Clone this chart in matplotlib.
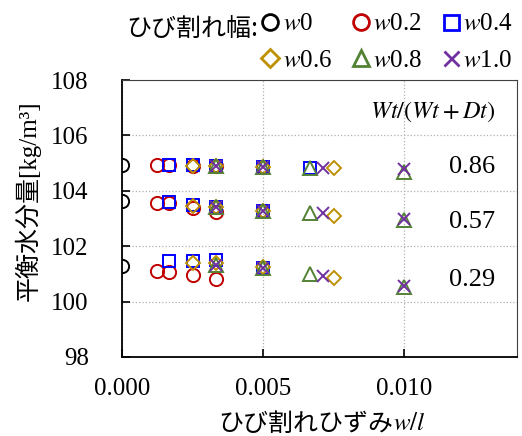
import matplotlib
matplotlib.use("Agg")
import matplotlib.pyplot as plt

plt.rcParams["mathtext.fontset"] = "stix"
plt.rcParams["font.family"] = ["Liberation Serif", "Noto Sans CJK JP"]

# ratio labels Wt/(Wt+Dt)
ratios = ["0.86", "0.57", "0.29"]
ratio_y = [104.87, 102.88, 100.78]

# crack width series: strain positions and moisture values for 3 ratio levels
w0_x = [0.0]
w0_y = [[104.93], [103.64], [101.30]]

w02_x = [0.00125, 0.00167, 0.0025, 0.00333]
w02_y = [[104.93, 104.93, 104.90, 104.88],
         [103.55, 103.55, 103.38, 103.25],
         [101.12, 101.08, 100.96, 100.82]]

w04_x = [0.00167, 0.0025, 0.00333, 0.005, 0.00667]
w04_y = [[104.93, 104.92, 104.90, 104.87, 104.81],
         [103.58, 103.50, 103.42, 103.27],
         [101.47, 101.47, 101.50, 101.22]]

w06_x = [0.0025, 0.00333, 0.005, 0.0075]
w06_y = [[104.90, 104.88, 104.87, 104.82],
         [103.45, 103.42, 103.27, 103.10],
         [101.40, 101.38, 101.24, 100.86]]

w08_x = [0.00333, 0.005, 0.00667, 0.010]
w08_y = [[104.88, 104.87, 104.81, 104.67],
         [103.42, 103.27, 103.19, 102.95],
         [101.32, 101.22, 101.00, 100.54]]

w10_x = [0.00333, 0.005, 0.00714, 0.010]
w10_y = [[104.88, 104.87, 104.82, 104.78],
         [103.40, 103.27, 103.19, 102.98],
         [101.32, 101.22, 100.93, 100.57]]

series = [
    ("$w$0", w0_x, w0_y, "o", "black", 9.5),
    ("$w$0.2", w02_x, w02_y, "o", "#c00000", 9.5),
    ("$w$0.4", w04_x, w04_y, "s", "#0000ff", 9),
    ("$w$0.6", w06_x, w06_y, "D", "#bf9000", 7.5),
    ("$w$0.8", w08_x, w08_y, "^", "#548235", 9.5),
    ("$w$1.0", w10_x, w10_y, "x", "#7030a0", 9),
]

fig = plt.figure(figsize=(5.22, 4.36), dpi=100)
ax = fig.add_axes([0.2337, 0.1812, 0.9904 - 0.2337, 0.8165 - 0.1812])

handles = {}
for label, xs, ys, mk, col, ms in series:
    for lvl in ys:
        h, = ax.plot(xs[:len(lvl)], lvl, linestyle="none", marker=mk, ms=ms,
                     mfc="none", mec=col, mew=1.4, label=label)
    handles[label] = h

for r, yy in zip(ratios, ratio_y):
    ax.text(0.0124, yy, r, fontsize=19, ha="center", va="center",
            family="Liberation Serif")
ax.text(0.0110, 106.85, "$Wt/(Wt+Dt)$", fontsize=17.5, ha="center", va="center")

ax.set_xlim(0, 0.014)
ax.set_ylim(98, 108)
ax.set_xticks([0.0, 0.005, 0.010])
ax.set_xticklabels(["0.000", "0.005", "0.010"])
ax.set_yticks([98, 100, 102, 104, 106, 108])
ax.tick_params(axis="x", direction="in", length=6, width=1.2, labelsize=18, pad=15)
ax.tick_params(axis="y", direction="in", length=6, width=1.2, labelsize=18, pad=24)
for lab in ax.get_xticklabels() + ax.get_yticklabels():
    lab.set_family("Liberation Serif")
ax.grid(True, linestyle=":", color="#b0b0b0", linewidth=0.9)
ax.set_axisbelow(True)
ax.spines["left"].set_linewidth(1.3)
ax.spines["bottom"].set_linewidth(1.3)
ax.spines["top"].set_color("#404040")
ax.spines["right"].set_color("#404040")

# axis labels
fig.text(28 / 522, 1 - 201 / 436, "平衡水分量[kg/m³]", rotation=90, fontsize=18,
         ha="center", va="center")
fig.text(393 / 522, 1 - 424 / 436, "ひび割れひずみ", fontsize=18, ha="right",
         va="center", family="Noto Sans CJK JP")
fig.text(393 / 522, 1 - 424 / 436, "$w/l$", fontsize=18, ha="left", va="center")

# legend
order = ["$w$0", "$w$0.6", "$w$0.2", "$w$0.8", "$w$0.4", "$w$1.0"]
leg = fig.legend([handles[k] for k in order], order, ncol=3, loc="upper right",
                 bbox_to_anchor=(513 / 522, 1 - 13 / 436), frameon=False,
                 prop={"family": "Liberation Serif", "size": 18},
                 handlelength=0.7, handletextpad=0.15, columnspacing=0.8,
                 labelspacing=0.55, borderpad=0.0, borderaxespad=0.0,
                 markerscale=1.2)
for lh in leg.legend_handles:
    lh.set_markeredgewidth(2.0)
fig.text(258 / 522, 1 - 29 / 436, "ひび割れ幅:", fontsize=18, ha="right",
         va="center", family="Noto Sans CJK JP")

fig.savefig("out.png", dpi=100)
